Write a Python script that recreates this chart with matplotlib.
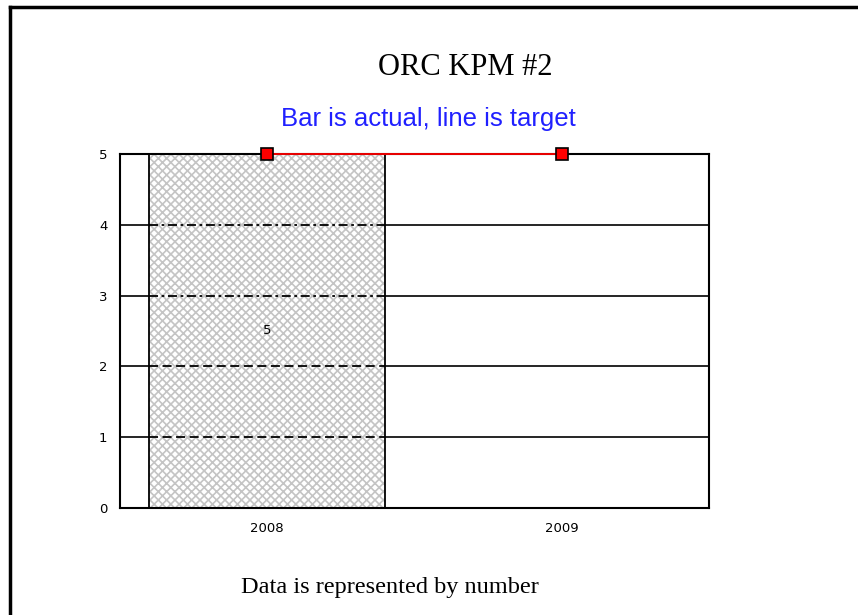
import numpy as np
import matplotlib
matplotlib.use("Agg")
import matplotlib.pyplot as plt
from matplotlib.lines import Line2D

# Chart data
years = ["2008", "2009"]
actual = [5]          # only 2008 has an actual value
target = [5, 5]
y_ticks = [0, 1, 2, 3, 4, 5]

plt.rcParams["hatch.linewidth"] = 1.2

fig = plt.figure(figsize=(8.58, 6.15), dpi=100)
ax = fig.add_axes([0.1399, 0.174, 0.6865, 0.5756])

x = np.arange(len(years))
bar_w = 0.8

# solid gridlines across the plot
for yv in y_ticks[1:-1]:
    ax.axhline(yv, color="black", lw=1.2, zorder=1)

# actual bar: grey cross hatch, then a black outline on top
bars = ax.bar(x[:len(actual)], actual, width=bar_w, color="white",
              edgecolor="#c4c4c4", hatch="xxxx", lw=0, zorder=2)
ax.bar(x[:len(actual)], actual, width=bar_w, fill=False,
       edgecolor="black", lw=1.3, zorder=4)

# gridlines seen through the bar are drawn dashed
for b in bars:
    x0, x1 = b.get_x(), b.get_x() + b.get_width()
    for yv in y_ticks[1:-1]:
        ls = (0, (5, 2.5)) if yv <= 2 else (0, (5, 2, 1.5, 2))
        ax.plot([x0, x1], [yv, yv], color="black", lw=1.3, ls=ls, zorder=3)
    ax.text(b.get_x() + b.get_width() / 2, b.get_height() / 2,
            f"{b.get_height():g}", ha="center", va="center", fontsize=9.5,
            zorder=4)

# target line
ax.plot(x, target, color="red", lw=1.3, marker="s", markersize=9,
        markerfacecolor="red", markeredgecolor="black", markeredgewidth=1.2,
        zorder=5, clip_on=False)

ax.set_xlim(-0.5, 1.5)
ax.set_ylim(0, 5)
ax.set_xticks(x)
ax.set_xticklabels(years)
ax.set_yticks(y_ticks)
ax.tick_params(axis="both", length=0, labelsize=9.5, pad=10)
ax.tick_params(axis="y", pad=9)
for s in ax.spines.values():
    s.set_linewidth(1.5)

fig.text(0.5425, 0.89, "ORC KPM #2", ha="center", va="center",
         fontsize=22, family="Liberation Serif")
fig.text(0.4994, 0.806, "Bar is actual, line is target", ha="center",
         va="center", fontsize=18.5, color="#2020ff", family="Liberation Sans")
fig.text(0.4545, 0.044, "Data is represented by number", ha="center",
         va="center", fontsize=17.5, family="Liberation Serif")

# page frame: top and left edges
fig.add_artist(Line2D([10 / 858, 1.0], [1 - 7 / 615, 1 - 7 / 615],
                      transform=fig.transFigure, color="black", lw=2.5))
fig.add_artist(Line2D([10 / 858, 10 / 858], [0.0, 1 - 7 / 615],
                      transform=fig.transFigure, color="black", lw=2.5))

fig.savefig("out.png", dpi=100)
